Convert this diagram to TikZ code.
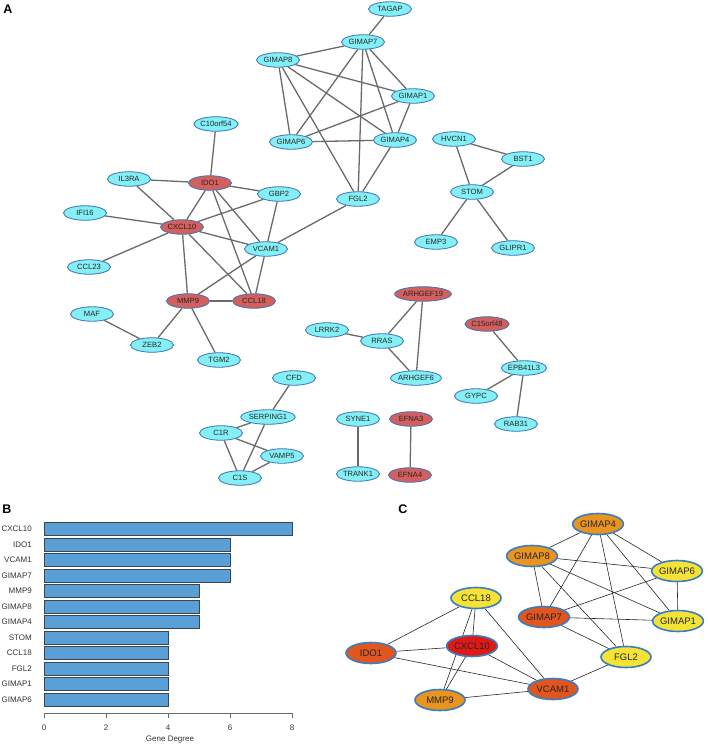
\documentclass[tikz,border=0pt]{standalone}
\usepackage{fontspec}
\setmainfont{Liberation Sans}
\usetikzlibrary{shapes.geometric,backgrounds}
\definecolor{cyanfill}{HTML}{84F0F6}
\definecolor{cyanline}{HTML}{3A72B5}
\definecolor{redfill}{HTML}{D4605E}
\definecolor{edgegray}{HTML}{6A6A6A}
\definecolor{barfill}{HTML}{5A9FD6}
\definecolor{barline}{HTML}{3C4650}
\definecolor{axisgray}{HTML}{6A6A6A}
\definecolor{cline}{HTML}{3B7DC0}
\definecolor{cred}{HTML}{DD1A16}
\definecolor{corred}{HTML}{E0561E}
\definecolor{corange}{HTML}{E8941E}
\definecolor{cyellow}{HTML}{F4E234}
\begin{document}
\begin{tikzpicture}[x=1pt,y=-1pt,
  gn/.style={ellipse, draw=cyanline, line width=0.8pt, fill=cyanfill, minimum width=43pt, minimum height=14.5pt, inner sep=0pt, font=\fontsize{7.6}{9}\selectfont, text=black!85},
  rn/.style={gn, fill=redfill},
  ae/.style={draw=edgegray, line width=1.3pt},
  cn/.style={ellipse, draw=cline, line width=1.6pt, minimum width=50pt, minimum height=21pt, inner sep=0pt, font=\fontsize{9.5}{11}\selectfont, text=black!85},
  ce/.style={draw=black!85, line width=0.6pt},
  plabel/.style={font=\bfseries\fontsize{12.5}{14}\selectfont, inner sep=0pt},
  blabel/.style={anchor=east, inner sep=0pt, font=\fontsize{8}{9.5}\selectfont, text=black!80},
  bar/.style={fill=barfill, draw=barline, line width=0.5pt}
]
\useasboundingbox (0,0) rectangle (708,746);

% ---------------- Panel A ----------------
\node[plabel] (labA) at (8,9) {A};
\node[gn] (aTAGAP) at (390,9) {TAGAP};
\node[gn] (aGIMAP7) at (363,42) {GIMAP7};
\node[gn] (aGIMAP8) at (278,60) {GIMAP8};
\node[gn] (aGIMAP1) at (413,96) {GIMAP1};
\node[gn] (aGIMAP6) at (291,142) {GIMAP6};
\node[gn] (aGIMAP4) at (395,140) {GIMAP4};
\node[gn] (aFGL2) at (358,199) {FGL2};
\node[gn] (aC10orf54) at (216,124) {C10orf54};
\node[gn] (aIL3RA) at (129,179) {IL3RA};
\node[rn] (aIDO1) at (210,183) {IDO1};
\node[gn] (aGBP2) at (279,194) {GBP2};
\node[gn] (aIFI16) at (85,213) {IFI16};
\node[rn] (aCXCL10) at (182,227) {CXCL10};
\node[gn] (aVCAM1) at (266,249) {VCAM1};
\node[gn] (aCCL23) at (89,267) {CCL23};
\node[rn] (aMMP9) at (188,301) {MMP9};
\node[rn] (aCCL18) at (254,301) {CCL18};
\node[gn] (aMAF) at (92,314) {MAF};
\node[gn] (aZEB2) at (152,345) {ZEB2};
\node[gn] (aTGM2) at (219,360) {TGM2};
\node[gn] (aHVCN1) at (454,139) {HVCN1};
\node[gn] (aBST1) at (523,159) {BST1};
\node[gn] (aSTOM) at (472,192) {STOM};
\node[gn] (aEMP3) at (436,242) {EMP3};
\node[gn] (aGLIPR1) at (513,248) {GLIPR1};
\node[rn] (aARHGEF19) at (423,294) {ARHGEF19};
\node[gn] (aLRRK2) at (327,330) {LRRK2};
\node[gn] (aRRAS) at (382,341) {RRAS};
\node[gn] (aARHGEF6) at (416,378) {ARHGEF6};
\node[rn] (aC15orf48) at (487,324) {C15orf48};
\node[gn] (aEPB41L3) at (524,368) {EPB41L3};
\node[gn] (aGYPC) at (476,396) {GYPC};
\node[gn] (aRAB31) at (516,424) {RAB31};
\node[gn] (aCFD) at (294,378) {CFD};
\node[gn] (aSERPING1) at (268,417) {SERPING1};
\node[gn] (aC1R) at (221,433) {C1R};
\node[gn] (aVAMP5) at (282,456) {VAMP5};
\node[gn] (aC1S) at (240,478) {C1S};
\node[gn] (aSYNE1) at (358,419) {SYNE1};
\node[gn] (aTRANK1) at (358,474) {TRANK1};
\node[rn] (aEFNA3) at (411,419) {EFNA3};
\node[rn] (aEFNA4) at (410,475) {EFNA4};

\begin{scope}[on background layer]
\foreach \u/\v in {TAGAP/GIMAP7, GIMAP7/GIMAP8, GIMAP7/GIMAP6, GIMAP7/GIMAP1, GIMAP7/GIMAP4, GIMAP7/FGL2,
  GIMAP8/GIMAP1, GIMAP8/GIMAP6, GIMAP8/GIMAP4, GIMAP8/FGL2, GIMAP6/GIMAP1, GIMAP6/GIMAP4, GIMAP1/GIMAP4,
  GIMAP4/FGL2, FGL2/VCAM1, C10orf54/IDO1, IL3RA/IDO1, IL3RA/CXCL10, IDO1/GBP2, IDO1/CXCL10, IDO1/VCAM1,
  IDO1/CCL18, GBP2/CXCL10, GBP2/VCAM1, IFI16/CXCL10, CXCL10/CCL23, CXCL10/VCAM1, CXCL10/MMP9, CXCL10/CCL18,
  VCAM1/MMP9, VCAM1/CCL18, MMP9/CCL18, MMP9/ZEB2, MMP9/TGM2, MAF/ZEB2,
  HVCN1/BST1, HVCN1/STOM, BST1/STOM, STOM/EMP3, STOM/GLIPR1,
  ARHGEF19/RRAS, ARHGEF19/ARHGEF6, RRAS/ARHGEF6, LRRK2/RRAS,
  C15orf48/EPB41L3, EPB41L3/GYPC, EPB41L3/RAB31,
  CFD/SERPING1, SERPING1/C1R, SERPING1/C1S, C1R/C1S, C1R/VAMP5, VAMP5/C1S,
  SYNE1/TRANK1, EFNA3/EFNA4}
  \draw[ae] (a\u) -- (a\v);
\end{scope}

% ---------------- Panel B ----------------
\node[plabel] (labB) at (7,509) {B};
\foreach \name/\val [count=\i from 0] in {CXCL10/8, IDO1/6, VCAM1/6, GIMAP7/6, MMP9/5, GIMAP8/5, GIMAP4/5, STOM/4, CCL18/4, FGL2/4, GIMAP1/4, GIMAP6/4} {
  \pgfmathsetmacro{\yc}{529+15.5*\i}
  \draw[bar] (44,\yc-6.3) rectangle (44+31*\val,\yc+6.3);
  \node[blabel] (b\name) at (32,\yc) {\name};
}
\coordinate (axL) at (44,713);
\coordinate (axR) at (292,713);
\draw[axisgray, line width=0.8pt] (axL) -- (axR);
\foreach \t in {0,2,4,6,8} {
  \draw[axisgray, line width=0.8pt] (44+31*\t,713) -- (44+31*\t,717.5);
  \node[inner sep=0pt, font=\fontsize{8}{9.5}\selectfont, text=black!80] (tick\t) at (44+31*\t,728) {\t};
}
\node[inner sep=0pt, font=\fontsize{8}{9.5}\selectfont, text=black!80] (bxlab) at (170,739.5) {Gene Degree};

% ---------------- Panel C ----------------
\node[plabel] (labC) at (403,509) {C};
\node[cn, fill=corange] (cGIMAP4) at (598,524) {GIMAP4};
\node[cn, fill=corange] (cGIMAP8) at (532,556) {GIMAP8};
\node[cn, fill=cyellow] (cGIMAP6) at (677,571) {GIMAP6};
\node[cn, fill=cyellow] (cCCL18) at (476,598) {CCL18};
\node[cn, fill=corred] (cGIMAP7) at (544,617) {GIMAP7};
\node[cn, fill=cyellow] (cGIMAP1) at (678,621) {GIMAP1};
\node[cn, fill=corred] (cIDO1) at (371,653) {IDO1};
\node[cn, fill=cred] (cCXCL10) at (472,646) {CXCL10};
\node[cn, fill=cyellow] (cFGL2) at (626,657) {FGL2};
\node[cn, fill=corred] (cVCAM1) at (553,689) {VCAM1};
\node[cn, fill=corange] (cMMP9) at (440,700) {MMP9};

\begin{scope}[on background layer]
\foreach \u/\v in {GIMAP4/GIMAP8, GIMAP4/GIMAP6, GIMAP4/GIMAP1, GIMAP4/GIMAP7, GIMAP4/FGL2,
  GIMAP8/GIMAP6, GIMAP8/GIMAP1, GIMAP8/GIMAP7, GIMAP8/FGL2, GIMAP6/GIMAP1, GIMAP6/GIMAP7,
  GIMAP7/GIMAP1, GIMAP7/FGL2, FGL2/VCAM1, CCL18/IDO1, CCL18/CXCL10, CCL18/MMP9, CCL18/VCAM1,
  IDO1/CXCL10, IDO1/VCAM1, CXCL10/VCAM1, CXCL10/MMP9, MMP9/VCAM1}
  \draw[ce] (c\u) -- (c\v);
\end{scope}
\end{tikzpicture}
\end{document}
